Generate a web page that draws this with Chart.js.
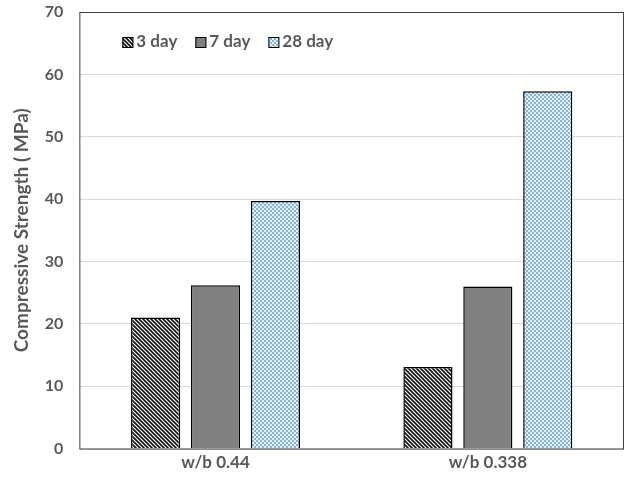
<!DOCTYPE html>
<html>
<head>
    <title>Compressive Strength</title>
    <script src="https://cdn.jsdelivr.net/npm/chart.js"></script>
    <style>
        html, body { margin: 0; padding: 0; background: #fff; }
        .chart-box { width: 629px; height: 486px; }
    </style>
</head>
<body>
    <div class="chart-box">
        <canvas id="strength-chart"></canvas>
    </div>

    <script>
        // data
        const mixes = ['w/b 0.44', 'w/b 0.338'];
        const ages = ['3 day', '7 day', '28 day'];
        const day3 = [21.0, 13.1];
        const day7 = [26.2, 26.0];
        const day28 = [39.7, 57.3];
        const yTicks = [0, 10, 20, 30, 40, 50, 60, 70];

        const textColor = '#595959';
        const fontFam = 'Lato, "Open Sans", sans-serif';

        // hatch fills like the excel chart
        function stripePattern() {
            const c = document.createElement('canvas');
            c.width = 4; c.height = 4;
            const g = c.getContext('2d');
            g.fillStyle = '#fff';
            g.fillRect(0, 0, 4, 4);
            g.strokeStyle = '#111';
            g.lineWidth = 1.6;
            g.beginPath();
            g.moveTo(-1, -1); g.lineTo(5, 5);
            g.moveTo(-1, 3); g.lineTo(1, 5);
            g.moveTo(3, -1); g.lineTo(5, 1);
            g.stroke();
            return g.createPattern(c, 'repeat');
        }

        function checkPattern() {
            const c = document.createElement('canvas');
            c.width = 4; c.height = 4;
            const g = c.getContext('2d');
            g.fillStyle = '#e8f1f9';
            g.fillRect(0, 0, 4, 4);
            g.fillStyle = '#86b3da';
            g.fillRect(0, 0, 2, 2);
            g.fillRect(2, 2, 2, 2);
            return g.createPattern(c, 'repeat');
        }

        const fills = [stripePattern(), '#808080', checkPattern()];
        const series = [day3, day7, day28];

        // frame round the plot area + legend inside top-left
        const framePlugin = {
            id: 'frame',
            afterDraw(chart) {
                const a = chart.chartArea;
                const ctx = chart.ctx;
                ctx.save();
                ctx.strokeStyle = '#404040';
                ctx.lineWidth = 1;
                ctx.strokeRect(a.left + 0.5, a.top + 0.5, a.right - a.left - 1, a.bottom - a.top);

                // legend
                ctx.font = 'bold 17px ' + fontFam;
                ctx.textBaseline = 'middle';
                const y = a.top + 30;
                chart.data.datasets.forEach((ds, i) => {
                    const x = a.left + 43 + i * 73;
                    ctx.fillStyle = ds.backgroundColor;
                    ctx.fillRect(x, y - 5, 11, 11);
                    ctx.strokeStyle = '#000';
                    ctx.strokeRect(x + 0.5, y - 4.5, 10, 10);
                    ctx.fillStyle = textColor;
                    ctx.fillText(ds.label, x + 14, y);
                });
                ctx.restore();
            }
        };

        const ctx = document.getElementById('strength-chart').getContext('2d');
        new Chart(ctx, {
            type: 'bar',
            data: {
                labels: mixes,
                datasets: ages.map((age, i) => ({
                    label: age,
                    data: series[i],
                    backgroundColor: fills[i],
                    borderColor: '#000',
                    borderWidth: 1.5,
                    categoryPercentage: 0.66,
                    barPercentage: 0.82
                }))
            },
            options: {
                responsive: true,
                maintainAspectRatio: false,
                animation: false,
                layout: { padding: { top: 12, right: 5, left: 10, bottom: 9 } },
                plugins: {
                    legend: { display: false },
                    tooltip: { enabled: false }
                },
                scales: {
                    x: {
                        grid: { display: false, drawTicks: false },
                        border: { display: false },
                        ticks: {
                            color: textColor,
                            font: { family: fontFam, size: 17, weight: 'bold' },
                            padding: 4
                        }
                    },
                    y: {
                        min: 0,
                        max: 70,
                        afterBuildTicks: axis => { axis.ticks = yTicks.map(v => ({ value: v })); },
                        afterFit: axis => {
                            axis.width -= 9;
                            axis.paddingTop = 0;
                        },
                        grid: { color: '#d9d9d9', drawTicks: false },
                        border: { display: false },
                        ticks: {
                            color: textColor,
                            font: { family: fontFam, size: 16, weight: 'bold' },
                            padding: 16
                        },
                        title: {
                            display: true,
                            text: 'Compressive Strength ( MPa)',
                            color: textColor,
                            font: { family: fontFam, size: 19, weight: 'bold' },
                            padding: { top: 0, bottom: 5 }
                        }
                    }
                }
            },
            plugins: [framePlugin]
        });
    </script>
</body>
</html>
